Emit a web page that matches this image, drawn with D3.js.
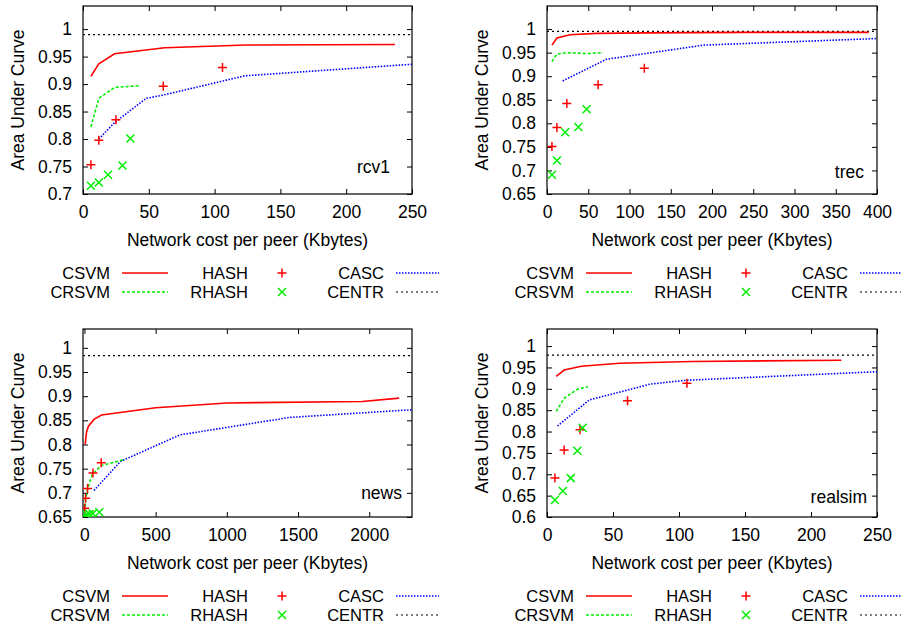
<!DOCTYPE html>
<html>
<head>
<meta charset="utf-8">
<script src="https://cdn.jsdelivr.net/npm/d3@7/dist/d3.min.js"></script>
<style>
  html, body { margin: 0; padding: 0; background: #fff; }
  svg { display: block; }
  text { font-family: "Liberation Sans", Arial, Helvetica, sans-serif; fill: #000; }
</style>
</head>
<body>
<svg id="chart" width="901" height="628"></svg>
<script>
// ---------------- DATA ----------------
const seriesNames = ["CSVM", "CRSVM", "HASH", "RHASH", "CASC", "CENTR"];

// rcv1
const rcv1_CSVM  = [[6,0.914],[12,0.937],[24,0.955],[62,0.966],[124,0.971],[237,0.972]];
const rcv1_CRSVM = [[6,0.822],[12,0.874],[24,0.894],[43,0.897]];
const rcv1_HASH  = [[6,0.753],[12,0.798],[25,0.835],[61,0.896],[106,0.930]];
const rcv1_RHASH = [[6,0.715],[12,0.721],[19,0.735],[30,0.752],[36,0.801]];
const rcv1_CASC  = [[12,0.800],[24,0.830],[48,0.874],[61,0.880],[123,0.915],[250,0.936]];
const rcv1_CENTR = 0.990;

// trec
const trec_CSVM  = [[6,0.966],[12,0.981],[28,0.988],[60,0.991],[120,0.992],[240,0.993],[390,0.993]];
const trec_CRSVM = [[6,0.931],[12,0.947],[24,0.950],[48,0.948],[68,0.950]];
const trec_HASH  = [[6,0.751],[12,0.791],[24,0.842],[62,0.882],[118,0.917]];
const trec_RHASH = [[6,0.691],[12,0.721],[22,0.781],[38,0.792],[48,0.830]];
const trec_CASC  = [[19,0.890],[72,0.936],[190,0.966],[400,0.980]];
const trec_CENTR = 0.995;

// news
const news_CSVM  = [[5,0.800],[15,0.826],[28,0.838],[67,0.852],[120,0.861],[500,0.876],[1000,0.886],[1950,0.889],[2210,0.896]];
const news_CRSVM = [[2,0.651],[8,0.686],[25,0.711],[55,0.738],[116,0.756],[280,0.769]];
const news_HASH  = [[2,0.668],[8,0.689],[22,0.709],[60,0.741],[118,0.762]];
const news_RHASH = [[2,0.651],[15,0.655],[35,0.656],[58,0.657],[105,0.660]];
const news_CASC  = [[67,0.705],[253,0.765],[672,0.820],[1440,0.856],[2300,0.872]];
const news_CENTR = 0.984;

// realsim
const realsim_CSVM  = [[7,0.929],[13,0.944],[26,0.953],[55,0.960],[110,0.964],[223,0.967]];
const realsim_CRSVM = [[7,0.847],[13,0.878],[23,0.899],[31,0.905]];
const realsim_HASH  = [[6,0.691],[13,0.757],[25,0.804],[61,0.872],[106,0.913]];
const realsim_RHASH = [[6,0.640],[12,0.661],[18,0.691],[23,0.755],[27,0.809]];
const realsim_CASC  = [[8,0.813],[32,0.874],[61,0.897],[78,0.911],[105,0.920],[250,0.940]];
const realsim_CENTR = 0.979;

// tick labels
const xTicks250  = [0, 50, 100, 150, 200, 250];
const xTicks400  = [0, 50, 100, 150, 200, 250, 300, 350, 400];
const xTicks2300 = [0, 500, 1000, 1500, 2000];
const yTicksRcv1    = [0.7, 0.75, 0.8, 0.85, 0.9, 0.95, 1];
const yTicksTrec    = [0.65, 0.7, 0.75, 0.8, 0.85, 0.9, 0.95, 1];
const yTicksNews    = [0.65, 0.7, 0.75, 0.8, 0.85, 0.9, 0.95, 1];
const yTicksRealsim = [0.6, 0.65, 0.7, 0.75, 0.8, 0.85, 0.9, 0.95, 1];

const xLabel = "Network cost per peer (Kbytes)";
const yLabel = "Area Under Curve";

// ---------------- LAYOUT / STYLE ----------------
const styles = {
  CSVM:  {color: "#ff0000", dash: null},
  CRSVM: {color: "#00ee00", dash: "3,2"},
  CASC:  {color: "#0000ff", dash: "1.5,1.5"},
  CENTR: {color: "#000000", dash: "2,3"},
  HASH:  {color: "#ff0000"},
  RHASH: {color: "#00ee00"}
};

const panels = [
  {name: "rcv1", L: 83, R: 412, T: 6, B: 194, xd: [0, 250], yd: [0.7, 1.042], xt: xTicks250, yt: yTicksRcv1,
   data: {CSVM: rcv1_CSVM, CRSVM: rcv1_CRSVM, HASH: rcv1_HASH, RHASH: rcv1_RHASH, CASC: rcv1_CASC, CENTR: rcv1_CENTR},
   lab: [390, 167], legendX: 0, legendY: 273},
  {name: "trec", L: 547, R: 877, T: 6, B: 194, xd: [0, 400], yd: [0.65, 1.049], xt: xTicks400, yt: yTicksTrec,
   data: {CSVM: trec_CSVM, CRSVM: trec_CRSVM, HASH: trec_HASH, RHASH: trec_RHASH, CASC: trec_CASC, CENTR: trec_CENTR},
   lab: [864, 172], legendX: 464, legendY: 273},
  {name: "news", L: 83, R: 412, T: 329, B: 517, xd: [-10, 2300], yd: [0.65, 1.039], xt: xTicks2300, yt: yTicksNews,
   data: {CSVM: news_CSVM, CRSVM: news_CRSVM, HASH: news_HASH, RHASH: news_RHASH, CASC: news_CASC, CENTR: news_CENTR},
   lab: [402, 493], legendX: 0, legendY: 596},
  {name: "realsim", L: 547, R: 877, T: 329, B: 517, xd: [0, 250], yd: [0.6, 1.04], xt: xTicks250, yt: yTicksRealsim,
   data: {CSVM: realsim_CSVM, CRSVM: realsim_CRSVM, HASH: realsim_HASH, RHASH: realsim_RHASH, CASC: realsim_CASC, CENTR: realsim_CENTR},
   lab: [867, 497], legendX: 464, legendY: 596}
];

const FS = 17.5;
const LFS = 16.5;
const svg = d3.select("#chart");
const yfmt = d3.format("~g");

function plus(g, x, y, c) {
  g.append("path").attr("d", `M${x-4.5},${y}H${x+4.5}M${x},${y-4.5}V${y+4.5}`)
    .attr("stroke", c).attr("stroke-width", 1.5).attr("fill", "none");
}
function cross(g, x, y, c) {
  g.append("path").attr("d", `M${x-4},${y-4}L${x+4},${y+4}M${x-4},${y+4}L${x+4},${y-4}`)
    .attr("stroke", c).attr("stroke-width", 1.5).attr("fill", "none");
}

panels.forEach((p, i) => {
  const x = d3.scaleLinear().domain(p.xd).range([p.L, p.R]);
  const y = d3.scaleLinear().domain(p.yd).range([p.B, p.T]);
  const g = svg.append("g");
  const clipId = "clip" + i;
  svg.append("clipPath").attr("id", clipId).append("rect")
    .attr("x", p.L).attr("y", p.T).attr("width", p.R - p.L).attr("height", p.B - p.T);

  // axes with inward ticks (gnuplot style, mirrored)
  const axL = d3.axisLeft(y).tickValues(p.yt).tickSize(-5).tickPadding(11).tickFormat(yfmt);
  const axR = d3.axisRight(y).tickValues(p.yt).tickSize(-5).tickFormat("");
  const axB = d3.axisBottom(x).tickValues(p.xt).tickSize(-5).tickPadding(12).tickFormat(d3.format("d"));
  const axT = d3.axisTop(x).tickValues(p.xt).tickSize(-5).tickFormat("");

  [[axL, `translate(${p.L},0)`], [axR, `translate(${p.R},0)`], [axB, `translate(0,${p.B})`], [axT, `translate(0,${p.T})`]]
    .forEach(([ax, tr]) => {
      const a = g.append("g").attr("transform", tr).call(ax);
      a.select(".domain").remove();
      a.selectAll(".tick line").attr("stroke", "#000").attr("stroke-width", 1);
      a.selectAll(".tick text").style("font-size", FS + "px").attr("font-family", null);
    });
  g.append("rect").attr("x", p.L).attr("y", p.T).attr("width", p.R - p.L).attr("height", p.B - p.T)
    .attr("fill", "none").attr("stroke", "#000").attr("stroke-width", 1.2);

  const body = g.append("g").attr("clip-path", `url(#${clipId})`);
  const line = d3.line().x(d => x(d[0])).y(d => y(d[1]));

  // CENTR horizontal reference
  body.append("path").attr("d", line([[p.xd[0], p.data.CENTR], [p.xd[1], p.data.CENTR]]))
    .attr("fill", "none").attr("stroke", styles.CENTR.color).attr("stroke-width", 1.2)
    .attr("stroke-dasharray", styles.CENTR.dash);

  ["CASC", "CRSVM", "CSVM"].forEach(s => {
    body.append("path").attr("d", line(p.data[s]))
      .attr("fill", "none").attr("stroke", styles[s].color).attr("stroke-width", 1.6)
      .attr("stroke-dasharray", styles[s].dash);
  });
  p.data.HASH.forEach(d => plus(body, x(d[0]), y(d[1]), styles.HASH.color));
  p.data.RHASH.forEach(d => cross(body, x(d[0]), y(d[1]), styles.RHASH.color));

  // panel label
  g.append("text").attr("x", p.lab[0]).attr("y", p.lab[1]).attr("dy", "0.35em")
    .attr("text-anchor", "end").style("font-size", FS + "px").text(p.name);

  // axis titles
  g.append("text").attr("x", (p.L + p.R) / 2).attr("y", p.B + 52)
    .attr("text-anchor", "middle").style("font-size", FS + "px").text(xLabel);
  const yx = p.L - 65, yy = (p.T + p.B) / 2;
  g.append("text").attr("transform", `translate(${yx},${yy}) rotate(-90)`)
    .attr("text-anchor", "middle").attr("dy", "0.35em").style("font-size", FS + "px").text(yLabel);

  // legend
  const lg = svg.append("g").attr("transform", `translate(${p.legendX},${p.legendY})`);
  const cols = [
    {textX: 110, items: ["CSVM", "CRSVM"], type: "line", x0: 122, x1: 168},
    {textX: 248, items: ["HASH", "RHASH"], type: "mark", mx: 282},
    {textX: 384, items: ["CASC", "CENTR"], type: "line", x0: 396, x1: 439}
  ];
  cols.forEach(c => {
    c.items.forEach((s, r) => {
      const ry = r * 19;
      lg.append("text").attr("x", c.textX).attr("y", ry).attr("dy", "0.35em")
        .attr("text-anchor", "end").style("font-size", LFS + "px").text(s);
      if (c.type === "line") {
        lg.append("line").attr("x1", c.x0).attr("x2", c.x1).attr("y1", ry).attr("y2", ry)
          .attr("stroke", styles[s].color).attr("stroke-width", s === "CENTR" ? 1.2 : 1.6)
          .attr("stroke-dasharray", styles[s].dash);
      } else if (s === "HASH") {
        plus(lg, c.mx, ry, styles.HASH.color);
      } else {
        cross(lg, c.mx, ry, styles.RHASH.color);
      }
    });
  });
});
</script>
</body>
</html>
